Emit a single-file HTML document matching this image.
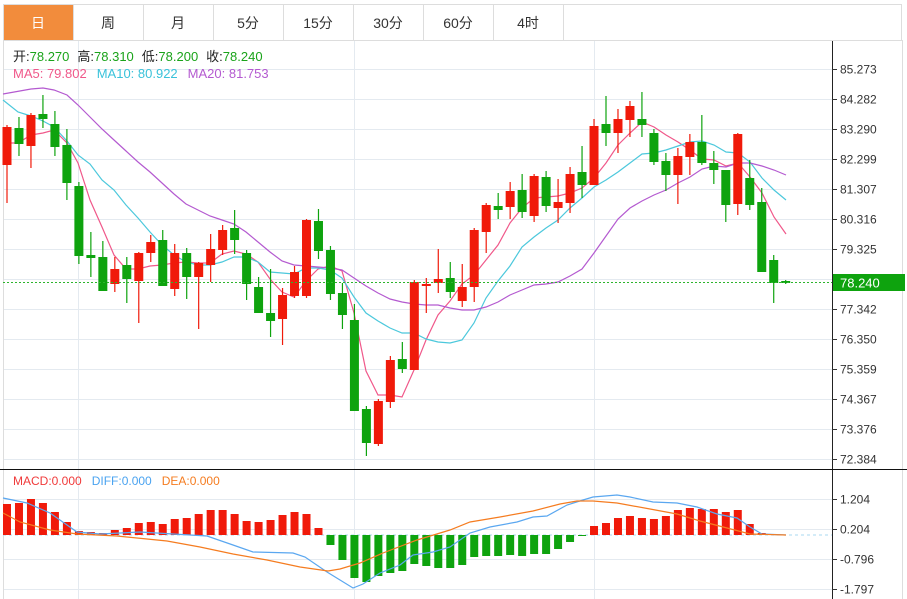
<!DOCTYPE html>
<html><head><meta charset="utf-8"><style>
html,body{margin:0;padding:0;background:#fff;width:907px;height:599px;overflow:hidden}
svg{display:block;font-family:"Liberation Sans","Noto Sans CJK SC",sans-serif}
</style></head><body>
<svg id="s" width="907" height="599" viewBox="0 0 907 599" xmlns="http://www.w3.org/2000/svg">
<rect x="0" y="0" width="907" height="599" fill="#fff"/>
<g id="grid"></g>
<!-- tabs -->
<rect x="3.5" y="4.5" width="898" height="36" fill="none" stroke="#ddd"/>
<line x1="3" y1="40.5" x2="902" y2="40.5" stroke="#ddd"/>
<rect x="4" y="5" width="69" height="35" fill="#f28c3c"/>
<g id="tabs" font-size="14" fill="#333" text-anchor="middle"></g>
<line x1="902.5" y1="40" x2="902.5" y2="599" stroke="#ddd"/>
<line x1="3.5" y1="40" x2="3.5" y2="599" stroke="#ddd"/>
<g id="ma"></g>
<g id="candles"></g>
<g id="macd"></g>
<line x1="832.5" y1="41" x2="832.5" y2="599" stroke="#222"/>
<line x1="0" y1="469.5" x2="907" y2="469.5" stroke="#111"/>
<g id="axis" font-size="12" fill="#333"></g>
<line x1="3" y1="282.5" x2="832" y2="282.5" stroke="#2db52d" stroke-dasharray="2,2"/>
<rect x="833" y="274" width="72" height="17" fill="#0ea30e"/>
<text x="840" y="287.5" font-size="13" fill="#fff">78.240</text>
<text y="61" font-size="13"><tspan x="13" fill="#222">开:</tspan><tspan fill="#1aa31a">78.270</tspan><tspan fill="#222" dx="8">高:</tspan><tspan fill="#1aa31a">78.310</tspan><tspan fill="#222" dx="8">低:</tspan><tspan fill="#1aa31a">78.200</tspan><tspan fill="#222" dx="8">收:</tspan><tspan fill="#1aa31a">78.240</tspan></text>
<text y="78" font-size="13"><tspan x="13" fill="#f0588a">MA5: 79.802</tspan><tspan dx="10" fill="#3ac2da">MA10: 80.922</tspan><tspan dx="10" fill="#b45ad0">MA20: 81.753</tspan></text>
<text y="485" font-size="12"><tspan x="13" fill="#f03a3a">MACD:0.000</tspan><tspan dx="10" fill="#4aa3f0">DIFF:0.000</tspan><tspan dx="10" fill="#f57c20">DEA:0.000</tspan></text>
</svg>
<script>
var NS="http://www.w3.org/2000/svg";
function el(p,t,a,txt){var e=document.createElementNS(NS,t);for(var k in a)e.setAttribute(k,a[k]);if(txt)e.textContent=txt;document.getElementById(p).appendChild(e);return e;}
// grid
[69,99,129,159,189,219,249,279,309,339,369,399,429,459].forEach(function(y){el("grid","line",{x1:3,x2:832,y1:y+.5,y2:y+.5,stroke:"#e4eaf0"});});
[499,529,559,589].forEach(function(y){el("grid","line",{x1:3,x2:832,y1:y+.5,y2:y+.5,stroke:"#e4eaf0"});});
[78,354,594].forEach(function(x){el("grid","line",{x1:x+.5,x2:x+.5,y1:41,y2:599,stroke:"#e4eaf0"});});
// tabs
var tabs=["日","周","月","5分","15分","30分","60分","4时"];
tabs.forEach(function(t,i){var cx=38+70*i;el("tabs","text",{x:cx,y:28,fill:i==0?"#fff":"#333"},t);if(i>0)el("tabs","line",{x1:3+70*i+.5,x2:3+70*i+.5,y1:5,y2:40,stroke:"#ddd"});});
el("tabs","line",{x1:563.5,x2:563.5,y1:5,y2:40,stroke:"#ddd"});
// axis
var lab=[[69,"85.273"],[99,"84.282"],[129,"83.290"],[159,"82.299"],[189,"81.307"],[219,"80.316"],[249,"79.325"],[309,"77.342"],[339,"76.350"],[369,"75.359"],[399,"74.367"],[429,"73.376"],[459,"72.384"],[499,"1.204"],[529,"0.204"],[559,"-0.796"],[589,"-1.797"]];
lab.forEach(function(l){el("axis","line",{x1:832,x2:837,y1:l[0]+.5,y2:l[0]+.5,stroke:"#333"});el("axis","text",{x:840,y:l[0]+4.5},l[1]);});
// candles [up?, top, bottom, high, low]
var C=[[1,127,165,125,203],[0,128,144,117,156],[1,115,146,113,168],[0,114,119,95,128],[0,124,147,111,156],[0,145,183,129,200],[0,186,256,182,264],[0,255,258,232,277],[0,257,291,241,291],[1,269,284,257,292],[0,265,279,257,303],[1,253,281,252,323],[1,242,253,235,262],[0,240,286,230,286],[1,253,289,244,296],[0,253,277,248,299],[1,263,277,262,329],[1,249,265,234,282],[1,230,250,225,255],[0,228,240,210,254],[0,253,284,250,300],[0,287,313,277,313],[0,313,321,269,337],[1,295,319,288,345],[1,272,296,266,298],[1,220,296,219,298],[0,221,251,209,259],[0,250,294,246,300],[0,293,315,283,329],[0,320,411,304,411],[0,409,443,406,456],[1,401,444,399,446],[1,360,402,356,408],[0,359,369,342,373],[1,282,370,280,370],[1,284,286,278,313],[1,279,283,249,293],[0,278,292,262,298],[1,287,301,264,307],[1,230,287,228,302],[1,205,232,203,253],[0,206,210,193,219],[1,191,207,182,219],[0,190,212,174,218],[1,176,216,174,222],[0,177,206,171,212],[1,202,208,179,223],[1,174,203,167,213],[0,172,185,146,198],[1,126,185,119,185],[0,124,133,96,146],[1,119,133,109,153],[1,106,120,101,137],[0,119,125,92,137],[0,133,162,129,165],[0,161,175,153,191],[1,156,175,148,204],[1,142,157,134,175],[0,142,163,115,165],[0,163,170,151,184],[0,170,205,170,222],[1,134,204,133,215],[0,178,205,160,210],[0,202,272,188,272],[0,260,283,255,303],[0,281,283,280,284]];
function X(i){return 7+11.98*i;}
C.forEach(function(c,i){var x=X(i),col=c[0]?"#f01a0a":"#0ea30e";
el("candles","line",{x1:x,x2:x,y1:c[3],y2:c[4],stroke:col,"stroke-width":1.2});
el("candles","rect",{x:x-4.5,y:c[1],width:9,height:Math.max(1.5,c[2]-c[1]),fill:col});});
// MA lines
function pl(g,pts,col){el(g,"polyline",{points:pts.map(function(p){return p.join(",")}).join(" "),fill:"none",stroke:col,"stroke-width":1.2});}
pl("ma",[[5,143],[18,143],[31,135],[43,133],[54,130],[67,143],[78,163],[90,200],[102,227],[114,255],[126,269],[138,269],[150,266],[162,265],[174,263],[186,262],[198,263],[210,263],[222,254],[234,251],[246,254],[258,262],[270,279],[282,292],[294,297],[306,281],[318,269],[330,266],[342,271],[354,313],[366,371],[378,395],[390,395],[402,397],[414,370],[426,340],[438,315],[450,301],[462,284],[474,275],[486,260],[498,245],[510,223],[522,208],[534,198],[546,197],[558,196],[570,193],[582,188],[594,178],[606,163],[618,145],[630,133],[642,122],[654,127],[666,135],[678,142],[690,150],[702,159],[714,160],[726,166],[738,163],[750,177],[762,193],[774,217],[786,234]],"#f0588a");
pl("ma",[[3,100],[18,112],[31,116],[43,121],[54,127],[67,141],[78,155],[90,164],[102,180],[114,190],[126,205],[138,218],[150,232],[162,245],[174,255],[186,262],[198,265],[210,265],[222,262],[234,257],[246,257],[258,262],[270,272],[282,273],[294,274],[306,268],[318,268],[330,270],[342,278],[354,297],[366,313],[378,321],[390,328],[402,333],[414,333],[426,339],[438,342],[450,343],[462,340],[474,323],[486,298],[498,281],[510,266],[522,247],[534,237],[546,228],[558,220],[570,208],[582,198],[594,187],[606,180],[618,172],[630,163],[642,154],[654,153],[666,150],[678,146],[690,142],[702,141],[714,145],[726,152],[738,153],[750,162],[762,178],[774,190],[786,200]],"#4cc8dc");
pl("ma",[[3,94],[31,89],[43,88],[54,90],[67,95],[78,105],[90,117],[102,129],[114,140],[126,151],[138,162],[150,172],[162,183],[174,194],[186,204],[198,210],[210,216],[222,220],[234,224],[246,232],[258,242],[270,252],[282,261],[294,265],[306,266],[318,267],[330,268],[342,270],[354,278],[366,286],[378,293],[390,299],[402,302],[414,304],[426,305],[438,305],[450,308],[462,310],[474,310],[486,307],[498,302],[510,295],[522,290],[534,285],[546,284],[558,282],[570,276],[582,269],[594,253],[606,236],[618,219],[630,208],[642,201],[654,195],[666,190],[678,183],[690,177],[702,169],[714,166],[726,167],[738,163],[750,163],[762,166],[774,170],[786,175]],"#b45ad0");
// MACD histogram
var H=[504,503,499,503,512,522,531,532,533,530,528,523,522,524,519,518,514,510,510,514,521,522,520,515,512,514,528,545,560,578,582,576,573,571,564,566,568,568,565,557,556,556,555,556,554,554,549,542,536,526,523,518,516,518,519,516,510,508,509,509,512,510,524,533,535,535];
el("macd","line",{x1:3,x2:832,y1:535,y2:535,stroke:"#a8d8f0","stroke-dasharray":"3,3"});
H.forEach(function(h,i){var x=X(i);if(Math.abs(h-535)<1)return;var up=h<535;
el("macd","rect",{x:x-4,y:up?h:535,width:8,height:Math.abs(h-535),fill:up?"#f01a0a":"#0ea30e"});});
pl("macd",[[3,498],[27,503],[50,513],[77,532],[100,534],[140,532],[173,534],[207,536],[233,545],[253,552],[293,553],[305,557],[327,572],[353,588],[363,584],[380,573],[400,565],[413,555],[433,552],[450,547],[470,533],[490,527],[517,522],[533,517],[547,516],[567,505],[583,500],[593,497],[617,495],[630,497],[653,502],[677,503],[697,507],[717,514],[737,518],[750,527],[762,534],[786,535]],"#5aa7f0");
pl("macd",[[3,513],[20,522],[50,530],[77,534],[117,536],[167,541],[200,547],[233,554],[267,560],[300,567],[328,571],[340,569],[360,563],[383,553],[417,540],[450,530],[470,522],[500,517],[533,511],[560,504],[577,501],[593,501],[617,503],[650,509],[677,514],[700,521],[727,528],[750,534],[786,535]],"#f57c20");
</script>
</body></html>
